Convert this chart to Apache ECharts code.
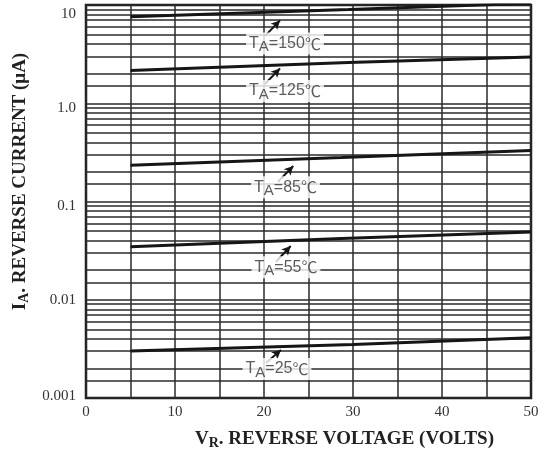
<!DOCTYPE html>
<html><head><meta charset="utf-8">
<script src="https://cdn.jsdelivr.net/npm/echarts@6/dist/echarts.min.js"></script>
<style>html,body{margin:0;padding:0;background:#fff}#c{width:544px;height:457px}</style>
</head><body><div id="c"></div>
<script>
// ---- data ----
const temps = ['150', '125', '85', '55', '25'];
const curve150 = [[5, 7.6], [29.5, 9.0], [50, 10.4]];
const curve125 = [[5, 2.15], [29.5, 2.6], [50, 2.95]];
const curve85 = [[5, 0.234], [28.7, 0.28], [50, 0.33]];
const curve55 = [[5, 0.0346], [28.7, 0.042], [50, 0.049]];
const curve25 = [[5, 0.0030], [30, 0.0035], [50, 0.0041]];
const curves = [curve150, curve125, curve85, curve55, curve25];

const xTickLabels = ['0', '10', '20', '30', '40', '50'];
const yTickValues = [0.001, 0.01, 0.1, 1, 10];
const yTickLabels = ['0.001', '0.01', '0.1', '1.0', '10'];
const decades = [0.001, 0.01, 0.1, 1];
const minorMultipliers = [1.5, 2, 3, 4, 5, 6, 7, 8, 9];

// annotation anchors (data coordinates)
const labelAnchor = [[22.36, 4.05], [22.36, 1.33], [22.42, 0.1395], [22.47, 0.02139], [21.46, 0.001973]];
const arrowFrom = [[20.11, 4.84], [20.11, 1.570], [21.57, 0.1591], [21.35, 0.02439], [20.22, 0.002271]];
const arrowTo = [[21.80, 6.97], [21.80, 2.263], [23.29, 0.2298], [23.0, 0.03525], [21.91, 0.003080]];

// ---- chart ----
const minorValues = [];
decades.forEach(d => minorMultipliers.forEach(m => minorValues.push(+(d * m).toPrecision(6))));

const gridColor = '#2a2a2a';
const serif = '"Liberation Serif", "DejaVu Serif", serif';
const sans = '"Liberation Sans", Arial, sans-serif';
const cjk = '"Noto Sans CJK SC", "Noto Sans", sans-serif';

const chart = echarts.init(document.getElementById('c'), null, {renderer: 'canvas'});

const series = [];
// carrier series for the minor horizontal grid lines (invisible line)
series.push({
  type: 'line', data: curve25, z: 1, silent: true, showSymbol: false, symbol: 'none',
  lineStyle: {opacity: 0}, animation: false,
  markLine: {
    silent: true, symbol: ['none', 'none'], animation: false, precision: 8,
    label: {show: false},
    lineStyle: {type: 'solid', color: gridColor, width: 1.5},
    data: minorValues.map(v => ({yAxis: v}))
  }
});
curves.forEach((c, i) => {
  series.push({
    type: 'line', name: temps[i], data: c, showSymbol: false, symbol: 'none',
    lineStyle: {color: '#161616', width: 3}, z: 5, silent: true, animation: false
  });
});
series.push({
  type: 'scatter', z: 8, silent: true, animation: false,
  symbolSize: 1, itemStyle: {color: 'rgba(0,0,0,0)'},
  data: labelAnchor.map((p, i) => ({value: p, name: temps[i]})),
  label: {
    show: true, position: 'inside', backgroundColor: '#fff', padding: [0, 3],
    formatter: p => '{t|T}{s|A}{t|=' + p.name + '}{c|℃}',
    rich: {
      t: {fontFamily: sans, fontSize: 16, color: '#333', lineHeight: 22, verticalAlign: 'middle'},
      s: {fontFamily: sans, fontSize: 15, color: '#333', lineHeight: 14, verticalAlign: 'bottom'},
      c: {fontFamily: cjk, fontSize: 16, color: '#333', lineHeight: 22, verticalAlign: 'middle'}
    }
  }
});
series.push({
  type: 'line', data: curve25, z: 9, silent: true, showSymbol: false, symbol: 'none',
  lineStyle: {opacity: 0}, animation: false,
  markLine: {
    silent: true, animation: false, symbol: ['none', 'arrow'], symbolSize: [7, 9], precision: 8,
    label: {show: false},
    lineStyle: {type: 'solid', color: '#161616', width: 2},
    data: arrowFrom.map((s, i) => [{coord: s}, {coord: arrowTo[i]}])
  }
});

const yLabelRich = {
  r0: {fontFamily: serif, fontSize: 15, color: '#333', padding: [0, 0, 4, 0]},
  r1: {fontFamily: serif, fontSize: 15, color: '#333'},
  r2: {fontFamily: serif, fontSize: 15, color: '#333', padding: [9, 0, 0, 0]},
  r3: {fontFamily: serif, fontSize: 15, color: '#333', padding: [10, 0, 0, 0]},
  r4: {fontFamily: serif, fontSize: 15, color: '#333', padding: [18, 0, 0, 0]}
};
const titleRich = {
  b: {fontFamily: serif, fontWeight: 'bold', fontSize: 19, color: '#222', lineHeight: 22, verticalAlign: 'middle'},
  s: {fontFamily: serif, fontWeight: 'bold', fontSize: 14, color: '#222', lineHeight: 12, verticalAlign: 'bottom'}
};

chart.setOption({
  animation: false,
  backgroundColor: '#fff',
  grid: {left: 86, right: 13, top: 5, bottom: 59, show: true, borderColor: '#1a1a1a', borderWidth: 2.5, containLabel: false},
  xAxis: {
    type: 'value', min: 0, max: 50, interval: 5,
    axisLine: {show: false}, axisTick: {show: false},
    splitLine: {show: true, lineStyle: {color: gridColor, width: 1.5}},
    axisLabel: {
      margin: 7, fontFamily: serif, fontSize: 15, color: '#333',
      formatter: v => (v % 10 === 0 ? xTickLabels[v / 10] : '')
    },
    name: '{b|V}{s|R}{b|. REVERSE VOLTAGE (VOLTS)}',
    nameLocation: 'middle', nameGap: 30,
    nameTextStyle: {padding: [0, 0, 0, 72], rich: titleRich}
  },
  yAxis: {
    type: 'log', logBase: 10, min: 0.001, max: 10,
    axisLine: {show: false}, axisTick: {show: false},
    splitLine: {show: true, lineStyle: {color: gridColor, width: 1.5}},
    axisLabel: {
      margin: 10, fontFamily: serif, fontSize: 15, color: '#333',
      formatter: v => {
        const i = yTickValues.findIndex(t => Math.abs(Math.log10(t) - Math.log10(v)) < 1e-6);
        return i >= 0 ? '{r' + i + '|' + yTickLabels[i] + '}' : '';
      },
      rich: yLabelRich
    },
    name: '{b|I}{s|A}{b|. REVERSE CURRENT (μA)}',
    nameLocation: 'middle', nameGap: 52, nameRotate: 90,
    nameTextStyle: {padding: [0, 0, 0, 40], rich: titleRich}
  },
  series: series
});
</script>
</body></html>
